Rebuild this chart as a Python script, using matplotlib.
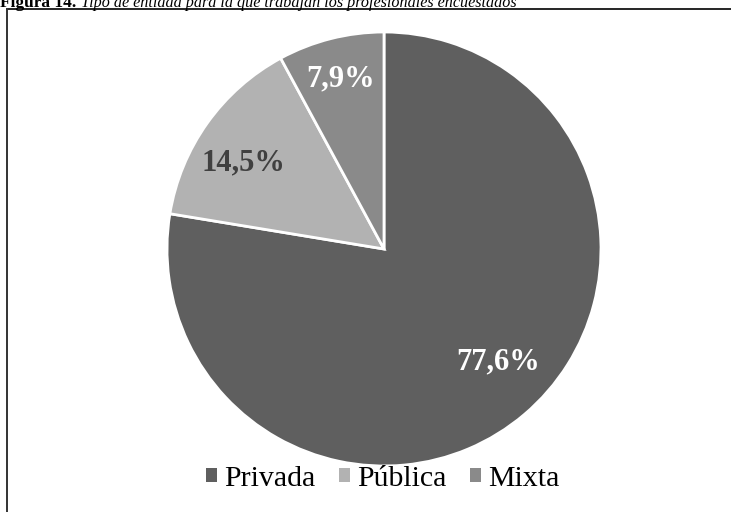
import numpy as np
import matplotlib
matplotlib.use("Agg")
import matplotlib.pyplot as plt
from matplotlib.lines import Line2D
from matplotlib.patches import Patch

categories = ["Privada", "Pública", "Mixta"]
shares = [77.6, 14.5, 7.9]
colors = ["#5f5f5f", "#b2b2b2", "#8a8a8a"]
label_colors = ["white", "#404040", "white"]
label_dist = [0.74, 0.76, 0.81]
label_turn = [5.0, 4.0, 0.0]  # degrees added to each wedge's mid-angle

W, H = 731, 512
fig = plt.figure(figsize=(W / 100, H / 100), dpi=100)
fig.patch.set_facecolor("white")

serif = ["Liberation Serif", "DejaVu Serif"]

# caption, running off the top edge
fig.text(0 / W, 1 - 7 / H, "Figura 14.", fontsize=12.5, fontweight="bold",
         family=serif, ha="left", va="baseline", color="black")
fig.text(81 / W, 1 - 7 / H,
         "Tipo de entidad para la que trabajan los profesionales encuestados",
         fontsize=11.6, fontstyle="italic", family=serif, ha="left",
         va="baseline", color="black")

# chart frame (top and left edges visible)
fig.add_artist(Line2D([7 / W, 1.0], [1 - 9 / H, 1 - 9 / H], color="black",
                      lw=1.2, transform=fig.transFigure))
fig.add_artist(Line2D([7 / W, 7 / W], [0, 1 - 9 / H], color="#333333",
                      lw=1.4, transform=fig.transFigure))

cx, cy, r = 384, 249, 217
ax = fig.add_axes([(cx - r) / W, (H - cy - r) / H, 2 * r / W, 2 * r / H])
wedges, _ = ax.pie(shares, colors=colors, startangle=90, counterclock=False,
                   radius=1.0,
                   wedgeprops=dict(edgecolor="white", linewidth=2))
ax.set_xlim(-1, 1)
ax.set_ylim(-1, 1)
ax.set_aspect("equal")
ax.axis("off")

for w, val, c, d, t in zip(wedges, shares, label_colors, label_dist, label_turn):
    ang = np.deg2rad((w.theta1 + w.theta2) / 2 + t)
    ax.text(d * np.cos(ang), d * np.sin(ang), f"{val:.1f}%".replace(".", ","),
            ha="center", va="center", fontsize=22, fontweight="bold",
            family=serif, color=c)

handles = [Patch(facecolor=c, edgecolor="none") for c in colors]
fig.legend(handles, categories, loc="center",
           bbox_to_anchor=(383 / W, 1 - 479 / H),
           ncol=3, frameon=False, prop={"family": serif, "size": 21.5},
           handlelength=0.35, handleheight=0.35, handletextpad=0.25,
           columnspacing=0.8, borderpad=0.0)

fig.savefig("out.png", dpi=100)
